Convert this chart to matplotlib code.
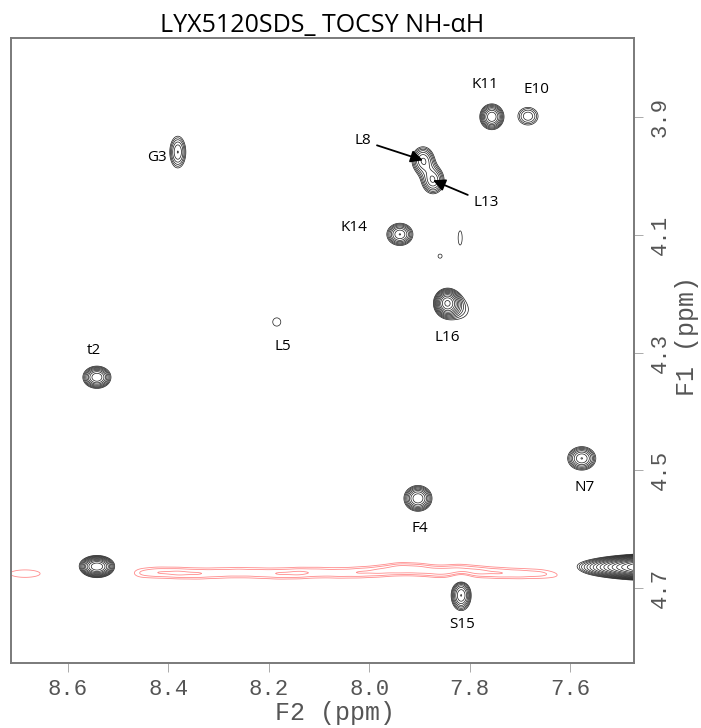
#!/usr/bin/env python3

import numpy as np
import matplotlib
matplotlib.use("Agg")
import matplotlib.pyplot as plt

# spectral window shown (ppm), F2 runs right to left, F1 top to bottom
f2_lim = (8.713, 7.473)
f1_lim = (3.765, 4.828)

# assigned NH-aH cross peaks
# height is in units of the lowest contour, rx / ry = half size of the outer contour (ppm)
peak_names = ["t2", "G3", "L5", "K14", "L8", "L13", "K11", "E10", "L16", "N7", "F4", "S15"]
peak_f2 = [8.542, 8.381, 8.184, 7.939, 7.893, 7.873, 7.756, 7.684, 7.845, 7.577, 7.903, 7.817]
peak_f1 = [4.342, 3.959, 4.248, 4.099, 3.973, 4.007, 3.899, 3.898, 4.216, 4.480, 4.548, 4.713]
peak_height = [4.3, 2.5, 1.1, 3.6, 3.0, 3.0, 4.3, 2.0, 6.2, 3.6, 4.3, 3.6]
peak_rx = [0.028, 0.016, 0.008, 0.026, 0.022, 0.022, 0.024, 0.020, 0.027, 0.028, 0.028, 0.020]
peak_ry = [0.019, 0.027, 0.007, 0.019, 0.023, 0.023, 0.022, 0.015, 0.025, 0.020, 0.022, 0.026]

# unlabelled signals: L16 shoulder, two small specks, t2 on the water line, water edge
extra_f2 = [7.815, 7.819, 7.859, 8.542, 7.400]
extra_f1 = [4.228, 4.105, 4.136, 4.664, 4.665]
extra_height = [1.1, 1.1, 1.05, 6.2, 25.0]
extra_rx = [0.010, 0.004, 0.004, 0.036, 0.190]
extra_ry = [0.009, 0.012, 0.0035, 0.019, 0.024]

# negative (red) ridge along the water line
neg_f2 = [8.685, 8.46, 8.42, 8.38, 8.34, 8.30, 8.26, 8.22, 8.18, 8.14, 8.10, 8.06,
          8.02, 7.98, 7.94, 7.90, 7.86, 7.82, 7.78, 7.74, 7.70, 7.66, 7.62]
neg_f1 = [4.676, 4.675, 4.674, 4.675, 4.676, 4.675, 4.674, 4.675, 4.676, 4.675, 4.674, 4.675,
          4.674, 4.672, 4.668, 4.669, 4.673, 4.670, 4.673, 4.675, 4.676, 4.676, 4.677]
neg_height = [1.18, 0.95, 1.05, 1.1, 1.05, 1.0, 1.0, 1.0, 1.05, 1.1, 1.0, 1.0,
              1.05, 1.1, 1.25, 1.2, 1.15, 1.2, 1.1, 1.05, 1.0, 0.95, 0.85]
neg_sig_f2 = [0.052] + [0.022] * 22
neg_sig_f1 = 0.011

f2_ticks = [8.6, 8.4, 8.2, 8.0, 7.8, 7.6]
f1_ticks = [3.9, 4.1, 4.3, 4.5, 4.7]

# label offsets from the peak centre, in points (x right, y up)
label_offsets = {
    "t2": (-2, 19), "G3": (-15, -4), "L5": (4, -18), "K14": (-33, 5),
    "K11": (-5, 23), "E10": (6, 19), "L16": (0, -25), "N7": (2, -21),
    "F4": (1, -22), "S15": (1, -21), "L8": (-43, 14), "L13": (38, -16),
}
arrow_labels = ["L8", "L13"]

label_font = "Open Sans"
mono_font = "Liberation Mono"


def gauss2d(X, Y, x0, y0, h, sx, sy):
    return h * np.exp(-0.5 * (((X - x0) / sx) ** 2 + ((Y - y0) / sy) ** 2))


def build_spectrum(X, Y):
    Z = np.zeros_like(X)
    f2s = peak_f2 + extra_f2
    f1s = peak_f1 + extra_f1
    hs = peak_height + extra_height
    rxs = peak_rx + extra_rx
    rys = peak_ry + extra_ry
    for x0, y0, h, rx, ry in zip(f2s, f1s, hs, rxs, rys):
        k = np.sqrt(2 * np.log(h))  # outer contour sits at level 1
        Z += gauss2d(X, Y, x0, y0, h, rx / k, ry / k)
    for x0, y0, h, sx in zip(neg_f2, neg_f1, neg_height, neg_sig_f2):
        Z -= gauss2d(X, Y, x0, y0, h, sx, neg_sig_f1)
    return Z


def main():
    x = np.linspace(f2_lim[1], f2_lim[0], 1300)
    y = np.linspace(f1_lim[0], f1_lim[1], 1300)
    X, Y = np.meshgrid(x, y)
    Z = build_spectrum(X, Y)

    pos_levels = 1.2 ** np.arange(0, 20)
    neg_levels = -1.2 ** np.arange(2, -1, -1)

    fig = plt.figure(figsize=(7.01, 7.28), dpi=100)
    ax = fig.add_axes([11 / 701, 65 / 728, 623 / 701, 625 / 728])

    ax.contour(X, Y, Z, levels=pos_levels, colors="#1a1a1a", linewidths=0.5)
    ax.contour(X, Y, Z, levels=neg_levels, colors="#ff8c8c", linewidths=0.6,
               linestyles="solid")

    ax.set_xlim(*f2_lim)
    ax.set_ylim(f1_lim[1], f1_lim[0])

    # peak labels
    for name, px, py in zip(peak_names, peak_f2, peak_f1):
        dx, dy = label_offsets[name]
        if name in arrow_labels:
            ax.annotate(name, xy=(px, py), xytext=(dx, dy), textcoords="offset points",
                        ha="center", va="center", fontsize=11, family=label_font,
                        arrowprops=dict(arrowstyle="-|>", color="black", lw=1.3,
                                        mutation_scale=18, shrinkA=2, shrinkB=0))
        else:
            ax.annotate(name, xy=(px, py), xytext=(dx, dy), textcoords="offset points",
                        ha="center", va="center", fontsize=11, family=label_font)

    # axes styling, Bruker style
    for sp in ax.spines.values():
        sp.set_color("#7a7a7a")
        sp.set_linewidth(1.4)
    ax.yaxis.tick_right()
    ax.set_xticks(f2_ticks)
    ax.set_yticks(f1_ticks)
    ax.set_xticklabels([f"{t:.1f}" for t in f2_ticks])
    ax.set_yticklabels([f"{t:.1f}" for t in f1_ticks])
    ax.tick_params(direction="out", length=6.5, width=0.7, color="#aaaaaa",
                   labelcolor="#555555", labelsize=16, pad=5)
    for lbl in ax.get_xticklabels():
        lbl.set_fontfamily(mono_font)
    for lbl in ax.get_yticklabels():
        lbl.set_fontfamily(mono_font)
        lbl.set_rotation(90)
        lbl.set_va("center")

    ax.set_xlabel("F2 (ppm)", family=mono_font, fontsize=18, color="#555555")
    ax.xaxis.label.set_va("center")
    ax.xaxis.set_label_coords(0.52, -0.08)
    ax.yaxis.set_label_position("right")
    ax.set_ylabel("F1 (ppm)", family=mono_font, fontsize=18, color="#555555", rotation=90)
    ax.yaxis.label.set_va("center")
    ax.yaxis.label.set_ha("center")
    ax.yaxis.set_label_coords(1.085, 0.523)

    ax.set_title("LYX5120SDS_ TOCSY NH-\u03b1H", family=label_font, fontsize=18, pad=4)

    fig.savefig("out.png", dpi=100)


if __name__ == "__main__":
    main()
